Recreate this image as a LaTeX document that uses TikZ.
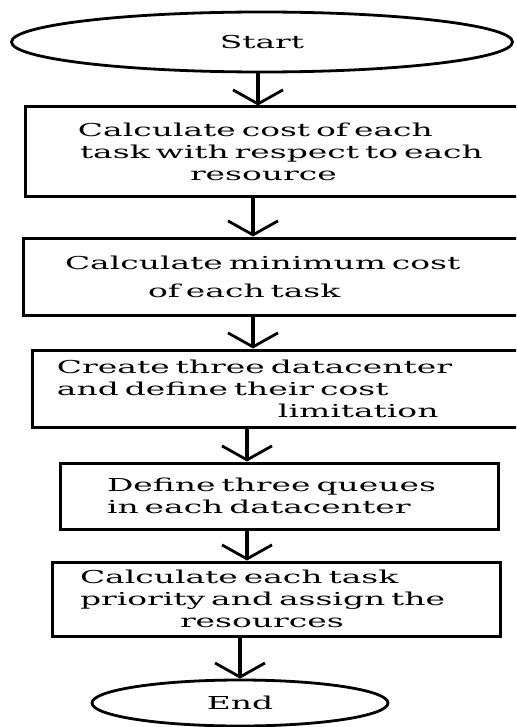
\documentclass[tikz,border=0pt]{standalone}
\usepackage{fontspec}
\setmainfont{DejaVu Serif}[FakeStretch=1.85]
\usetikzlibrary{shapes.geometric,arrows.meta}
\tikzset{flowbox/.style={draw,line width=1.5pt,rectangle,inner xsep=0pt,inner ysep=4pt,align=left,font=\fontsize{8.9}{11}\selectfont}, flowend/.style={draw,line width=1.4pt,ellipse,inner sep=0pt,font=\fontsize{8.9}{11}\selectfont}, flowarrow/.style={line width=2pt,-{Straight Barb[length=7pt,width=25pt,line width=1.4pt]}}}

\begin{document}
\begin{tikzpicture}[x=0.5pt,y=-0.5pt]
\path[use as bounding box] (0,0) rectangle (516,727);
\clip (0,0) rectangle (516,727);
\node[flowend,minimum width=250.5pt,minimum height=30pt] (start) at (262,42) {Start};
\node[flowbox,text width=287.5pt,minimum height=45pt] (calccost) at (312.5,152) {\hspace*{26.5pt}Calculate cost of each\\ \hspace*{27.5pt}task with respect to each\\ \hspace*{82.5pt}resource};
\node[flowbox,text width=288.5pt,minimum height=38.5pt] (mincost) at (311.5,276.5) {\hspace*{21pt}Calculate minimum cost\\[3pt] \hspace*{62.5pt}of each task};
\node[flowbox,text width=284pt,minimum height=38.5pt] (datacenter) at (316,388.5) {\hspace*{12.5pt}Create three datacenter\\ \hspace*{12.5pt}and define their cost\\ \hspace*{123pt}limitation};
\node[flowbox,text width=219pt,minimum height=33pt] (queues) at (279,496) {\hspace*{23.5pt}Define three queues\\ \hspace*{23.5pt}in each datacenter};
\node[flowbox,text width=224pt,minimum height=37pt] (priority) at (276,599) {\hspace*{14pt}Calculate each task\\ \hspace*{14pt}priority and assign the\\ \hspace*{64pt}resources};
\node[flowend,minimum width=148pt,minimum height=23pt] (finish) at (240,703) {End};
% arrows between the steps
\draw[flowarrow] ([xshift=-2pt]start.south) -- ([xshift=-2pt]start.south |- calccost.north);
\draw[flowarrow] ([xshift=-29.75pt]calccost.south) -- ([xshift=-29.75pt]calccost.south |- mincost.north);
\draw[flowarrow] ([xshift=-29.25pt]mincost.south) -- ([xshift=-29.25pt]mincost.south |- datacenter.north);
\draw[flowarrow] ([xshift=-34.5pt]datacenter.south) -- ([xshift=-34.5pt]datacenter.south |- queues.north);
\draw[flowarrow] ([xshift=-16pt]queues.south) -- ([xshift=-16pt]queues.south |- priority.north);
\draw[flowarrow] ([xshift=-18pt]priority.south) -- ([xshift=-18pt]priority.south |- finish.north);
\end{tikzpicture}
\end{document}
